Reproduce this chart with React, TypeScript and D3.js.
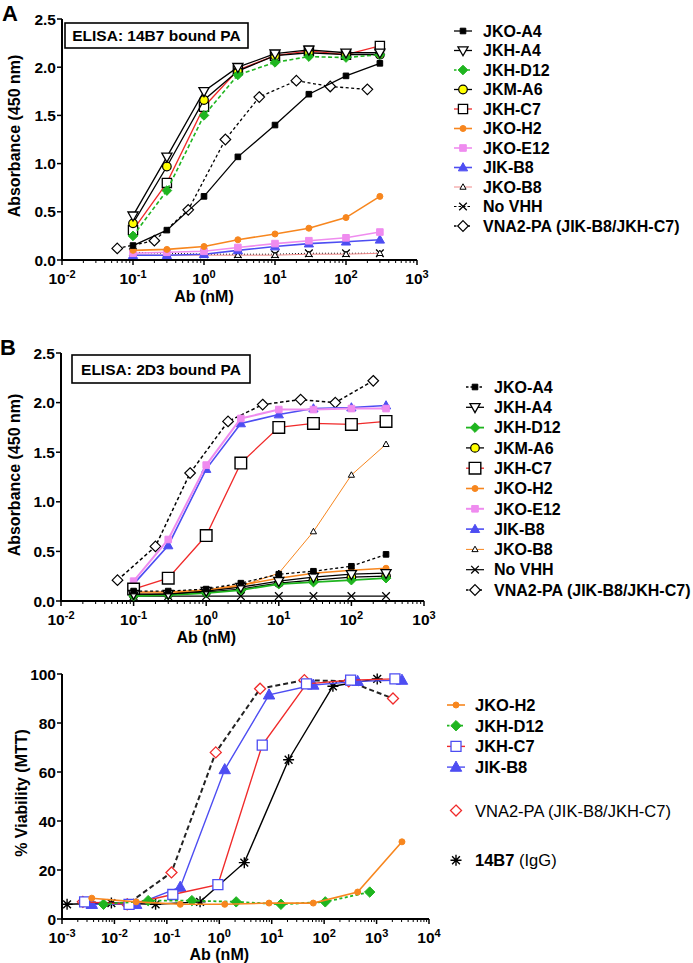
import React from 'react'
import * as d3 from 'd3'

// concentrations (nM)
const concAB = [0.1, 0.3, 1, 3, 10, 30, 100, 300]
const concVnaAB = [0.06, 0.2, 0.6, 2, 6, 20, 60, 200]

// panel A: ELISA 14B7 bound PA (absorbance 450 nm)
const aJKOA4 = [0.15, 0.31, 0.66, 1.07, 1.4, 1.72, 1.91, 2.04]
const aJKHA4 = [0.46, 1.07, 1.75, 2.0, 2.14, 2.18, 2.15, 2.15]
const aJKHD12 = [0.25, 0.72, 1.5, 1.92, 2.05, 2.11, 2.1, 2.13]
const aJKMA6 = [0.38, 0.97, 1.66, 1.96, 2.12, 2.15, 2.13, 2.13]
const aJKHC7 = [0.31, 0.8, 1.59, 1.97, 2.12, 2.17, 2.13, 2.22]
const aJKOH2 = [0.1, 0.11, 0.14, 0.21, 0.27, 0.33, 0.44, 0.66]
const aJKOE12 = [0.07, 0.08, 0.09, 0.13, 0.17, 0.2, 0.23, 0.29]
const aJIKB8 = [0.05, 0.05, 0.06, 0.1, 0.14, 0.17, 0.19, 0.21]
const aJKOB8 = [0.05, 0.05, 0.05, 0.05, 0.05, 0.06, 0.06, 0.07]
const aNoVHH = [0.08, 0.07, 0.06, 0.06, 0.06, 0.07, 0.07, 0.07]
const aVNA2 = [0.12, 0.2, 0.52, 1.25, 1.69, 1.86, 1.8, 1.77]

// panel B: ELISA 2D3 bound PA
const bJKOA4 = [0.1, 0.1, 0.12, 0.18, 0.27, 0.3, 0.35, 0.47]
const bJKHA4 = [0.07, 0.07, 0.1, 0.14, 0.2, 0.24, 0.27, 0.28]
const bJKHD12 = [0.05, 0.06, 0.08, 0.11, 0.17, 0.19, 0.21, 0.23]
const bJKMA6 = [0.06, 0.07, 0.09, 0.12, 0.18, 0.21, 0.24, 0.25]
const bJKHC7 = [0.12, 0.23, 0.66, 1.39, 1.75, 1.79, 1.78, 1.81]
const bJKOH2 = [0.09, 0.09, 0.11, 0.16, 0.23, 0.28, 0.31, 0.33]
const bJKOE12 = [0.2, 0.62, 1.37, 1.84, 1.93, 1.93, 1.94, 1.94]
const bJIKB8 = [0.17, 0.56, 1.33, 1.79, 1.88, 1.94, 1.95, 1.97]
const bJKOB8 = [0.08, 0.08, 0.1, 0.15, 0.28, 0.7, 1.27, 1.58]
const bNoVHH = [0.05, 0.05, 0.05, 0.05, 0.05, 0.05, 0.05, 0.05]
const bVNA2 = [0.21, 0.55, 1.29, 1.81, 1.98, 2.03, 2.0, 2.22]

// panel C: % viability (MTT)
const cConcH2 = [0.0037, 0.026, 0.18, 1.27, 8.9, 62, 436, 3050]
const cJKOH2 = [8.5, 7, 6, 6, 6.5, 6.5, 11, 31.5]
const cConcD12 = [0.0062, 0.044, 0.3, 2.1, 15, 105, 740]
const cJKHD12 = [6, 7.5, 7.5, 7, 6, 7, 11]
const cConcC7 = [0.0027, 0.019, 0.13, 0.94, 6.6, 46, 320, 2240]
const cJKHC7 = [7, 6, 10, 14, 71, 96, 97.5, 98]
const cConcB8 = [0.0037, 0.026, 0.18, 1.27, 8.9, 62, 436, 3050]
const cJIKB8 = [6, 6, 13, 61, 91.5, 95.5, 97, 97.5]
const cConcVNA2 = [0.0025, 0.0175, 0.1225, 0.857, 6.0, 42, 294, 2058]
const cVNA2 = [7, 6, 19, 68, 94, 97.5, 97, 90]
const cConc14B7 = [0.00125, 0.00875, 0.061, 0.43, 3.0, 21, 147, 1029]
const c14B7 = [6, 6.5, 6, 7, 23, 65, 95, 98]

const yTicksAB = [0, 0.5, 1, 1.5, 2, 2.5]
const yTicksC = [0, 20, 40, 60, 80, 100]

const FONT = '"Liberation Sans", Arial, sans-serif'
const ORANGE = '#f7861e'
const VIOLET = '#ef8cef'
const BLUE = '#4d4df2'
const GREEN = '#1fb51f'
const RED = '#f02a2a'
const PINK = '#f08a8a'

const TICK_FS = 15.5

function markerPath(shape, r) {
  switch (shape) {
    case 'square':
      return `M${-r},${-r}H${r}V${r}H${-r}Z`
    case 'triUp':
      return `M0,${-r * 1.15}L${r * 1.1},${r * 0.8}L${-r * 1.1},${r * 0.8}Z`
    case 'triDown':
      return `M0,${r * 1.15}L${r * 1.1},${-r * 0.8}L${-r * 1.1},${-r * 0.8}Z`
    case 'diamond':
      return `M0,${-r}L${r},0L0,${r}L${-r},0Z`
    case 'x':
      return `M${-r},${-r}L${r},${r}M${-r},${r}L${r},${-r}`
    case 'star': {
      let s = ''
      for (let i = 0; i < 4; i++) {
        const a = (i * Math.PI) / 4
        s += `M${-r * Math.cos(a)},${-r * Math.sin(a)}L${r * Math.cos(a)},${r * Math.sin(a)}`
      }
      return s
    }
    default:
      return `M${-r},0a${r},${r} 0 1,0 ${2 * r},0a${r},${r} 0 1,0 ${-2 * r},0`
  }
}

function Marker({ mk, cx, cy }) {
  return (
    <path
      d={markerPath(mk.shape, mk.r)}
      transform={`translate(${cx},${cy})`}
      fill={mk.fill}
      stroke={mk.stroke}
      strokeWidth={mk.sw ?? 1.3}
    />
  )
}

const mkFilledSq = { shape: 'square', r: 2.8, fill: '#000', stroke: '#000', sw: 1 }
const mkTriDown = { shape: 'triDown', r: 4.6, fill: '#fff', stroke: '#000', sw: 1.3 }
const mkDiaG = { shape: 'diamond', r: 4.8, fill: GREEN, stroke: GREEN, sw: 1 }
const mkCircY = { shape: 'circle', r: 4.3, fill: '#ffff00', stroke: '#000', sw: 1.2 }
const mkOpenSq = { shape: 'square', r: 4.6, fill: '#fff', stroke: '#000', sw: 1.3 }
const mkOpenSqB = { shape: 'square', r: 5.8, fill: '#fff', stroke: '#000', sw: 1.4 }
const mkDotO = { shape: 'circle', r: 3, fill: ORANGE, stroke: ORANGE, sw: 1 }
const mkSqV = { shape: 'square', r: 3.3, fill: VIOLET, stroke: VIOLET, sw: 1 }
const mkTriB = { shape: 'triUp', r: 4.2, fill: BLUE, stroke: BLUE, sw: 1 }
const mkTriSm = { shape: 'triUp', r: 2.8, fill: '#fff', stroke: '#000', sw: 1 }
const mkX = { shape: 'x', r: 3.8, fill: 'none', stroke: '#000', sw: 1.3 }
const mkOpenDia = { shape: 'diamond', r: 5.3, fill: '#fff', stroke: '#000', sw: 1.2 }

const seriesA = [
  { name: 'JKO-A4', x: concAB, y: aJKOA4, color: '#000', mk: mkFilledSq },
  { name: 'JKH-A4', x: concAB, y: aJKHA4, color: '#000', mk: mkTriDown },
  { name: 'JKH-D12', x: concAB, y: aJKHD12, color: GREEN, dash: '4,2.5', lw: 1.6, mk: mkDiaG },
  { name: 'JKM-A6', x: concAB, y: aJKMA6, color: '#000', mk: mkCircY },
  { name: 'JKH-C7', x: concAB, y: aJKHC7, color: RED, mk: mkOpenSq },
  { name: 'JKO-H2', x: concAB, y: aJKOH2, color: ORANGE, lw: 1.6, mk: mkDotO },
  { name: 'JKO-E12', x: concAB, y: aJKOE12, color: VIOLET, lw: 1.6, mk: mkSqV },
  { name: 'JIK-B8', x: concAB, y: aJIKB8, color: BLUE, lw: 1.6, mk: mkTriB },
  { name: 'JKO-B8', x: concAB, y: aJKOB8, color: PINK, lw: 1, mk: mkTriSm },
  { name: 'No VHH', x: concAB, y: aNoVHH, color: '#000', dash: '1,2', lw: 1, mk: mkX },
  { name: 'VNA2-PA (JIK-B8/JKH-C7)', x: concVnaAB, y: aVNA2, color: '#000', dash: '3,2.5', mk: mkOpenDia },
]

const seriesB = [
  { name: 'JKO-A4', x: concAB, y: bJKOA4, color: '#000', dash: '3,2.5', mk: mkFilledSq },
  { name: 'JKH-A4', x: concAB, y: bJKHA4, color: '#000', mk: mkTriDown },
  { name: 'JKH-D12', x: concAB, y: bJKHD12, color: GREEN, lw: 1.8, mk: mkDiaG },
  { name: 'JKM-A6', x: concAB, y: bJKMA6, color: '#000', mk: mkCircY },
  { name: 'JKH-C7', x: concAB, y: bJKHC7, color: RED, mk: mkOpenSqB },
  { name: 'JKO-H2', x: concAB, y: bJKOH2, color: ORANGE, lw: 1.6, mk: mkDotO },
  { name: 'JKO-E12', x: concAB, y: bJKOE12, color: VIOLET, lw: 2, mk: mkSqV },
  { name: 'JIK-B8', x: concAB, y: bJIKB8, color: BLUE, lw: 1.6, mk: mkTriB },
  { name: 'JKO-B8', x: concAB, y: bJKOB8, color: ORANGE, lw: 1, mk: mkTriSm },
  { name: 'No VHH', x: concAB, y: bNoVHH, color: '#000', lw: 1.2, mk: mkX },
  { name: 'VNA2-PA (JIK-B8/JKH-C7)', x: concVnaAB, y: bVNA2, color: '#000', dash: '3.5,2.5', lw: 1.5, mk: mkOpenDia },
]

const seriesC = [
  { name: 'JKO-H2', x: cConcH2, y: cJKOH2, color: ORANGE, lw: 1.6, mk: mkDotO },
  { name: 'JKH-D12', x: cConcD12, y: cJKHD12, color: GREEN, dash: '3,2.5', lw: 1.8, mk: { ...mkDiaG, r: 5.2 } },
  { name: 'JKH-C7', x: cConcC7, y: cJKHC7, color: RED, lw: 1.4, mk: { shape: 'square', r: 5, fill: '#fff', stroke: BLUE, sw: 1.3 } },
  { name: 'JIK-B8', x: cConcB8, y: cJIKB8, color: BLUE, lw: 1.4, mk: { ...mkTriB, r: 5.2 } },
  { name: 'VNA2-PA (JIK-B8/JKH-C7)', x: cConcVNA2, y: cVNA2, color: '#222', dash: '5,3', lw: 2, mk: { shape: 'diamond', r: 5.5, fill: '#fff', stroke: RED, sw: 1.3 }, noLegendLine: true, normal: true },
  { name: '14B7', sub: '  (IgG)', x: cConc14B7, y: c14B7, color: '#000', lw: 1.4, mk: { shape: 'star', r: 5.5, fill: 'none', stroke: '#000', sw: 1.4 }, noLegendLine: true },
]

function LogXAxis({ x, y0, labelY }) {
  const [d0, d1] = x.domain().map(v => Math.round(Math.log10(v)))
  const decades = d3.range(d0, d1 + 1)
  const minors = []
  decades.slice(0, -1).forEach(d => {
    for (let k = 2; k <= 9; k++) minors.push(k * Math.pow(10, d))
  })
  const [r0, r1] = x.range()
  return (
    <g>
      <line x1={r0} x2={r1} y1={y0} y2={y0} stroke="#000" strokeWidth={2} />
      {minors.map((v, i) => (
        <line key={'m' + i} x1={x(v)} x2={x(v)} y1={y0} y2={y0 + 3} stroke="#000" strokeWidth={1} />
      ))}
      {decades.map(d => (
        <g key={d}>
          <line x1={x(Math.pow(10, d))} x2={x(Math.pow(10, d))} y1={y0} y2={y0 + 5} stroke="#000" strokeWidth={1.5} />
          <text x={x(Math.pow(10, d))} y={labelY} textAnchor="middle" fontSize={TICK_FS} fontWeight="bold">
            10<tspan dy={-6.5} fontSize={11}>{String(d)}</tspan>
          </text>
        </g>
      ))}
    </g>
  )
}

function Panel({ p }) {
  const x = d3.scaleLog().domain(p.xDomain).range(p.xRange)
  const y = d3.scaleLinear().domain(p.yDomain).range(p.yRange)
  const line = d3.line().x(d => x(d[0])).y(d => y(d[1]))
  const x0 = p.xRange[0]
  const drawOrder = p.series.slice().reverse()
  return (
    <g>
      {p.letter && (
        <text x={p.letter.x} y={p.letter.y} fontSize={22} fontWeight="bold">{p.letter.t}</text>
      )}
      {p.box && (
        <g>
          <rect x={p.box.x} y={p.box.y} width={p.box.w} height={p.box.h} fill="#fff" stroke="#000" strokeWidth={1.6} />
          <text x={p.box.x + p.box.w / 2} y={p.box.y + p.box.h / 2} dy="0.36em" textAnchor="middle" fontSize={15.5} fontWeight="bold">{p.box.t}</text>
        </g>
      )}
      {/* y axis */}
      <line x1={x0} x2={x0} y1={y(p.yDomain[0]) + 1} y2={y(p.yDomain[1])} stroke="#000" strokeWidth={2} />
      {p.yTicks.map(t => (
        <g key={t}>
          <line x1={x0 - 5} x2={x0} y1={y(t)} y2={y(t)} stroke="#000" strokeWidth={1.5} />
          <text x={x0 - 6} y={y(t)} dy="0.36em" textAnchor="end" fontSize={TICK_FS} fontWeight="bold">{p.yFmt(t)}</text>
        </g>
      ))}
      <text transform={`translate(${p.yLabel.x},${p.yLabel.y}) rotate(-90)`} textAnchor="middle" fontSize={16} fontWeight="bold">{p.yLabel.t}</text>
      <LogXAxis x={x} y0={y(p.yDomain[0])} labelY={p.tickLabelY} />
      <text x={x(1)} y={p.xLabelY} textAnchor="middle" fontSize={16} fontWeight="bold">Ab (nM)</text>

      {/* series */}
      {drawOrder.map(s => (
        <g key={s.name}>
          <path
            d={line(s.x.map((v, i) => [v, s.y[i]]))}
            fill="none"
            stroke={s.color}
            strokeWidth={s.lw ?? 1.3}
            strokeDasharray={s.dash}
          />
          {s.x.map((v, i) => (
            <Marker key={i} mk={s.mk} cx={x(v)} cy={y(s.y[i])} />
          ))}
        </g>
      ))}

      {/* legend */}
      {p.series.map((s, i) => {
        const ly = p.legend.y0 + p.legend.slots[i] * p.legend.dy
        return (
          <g key={'lg' + s.name}>
            {!s.noLegendLine && (
              <line
                x1={p.legend.mx - 9}
                x2={p.legend.mx + 9}
                y1={ly}
                y2={ly}
                stroke={s.color}
                strokeWidth={s.lw ?? 1.3}
                strokeDasharray={s.dash ? '2.5,2' : undefined}
              />
            )}
            <Marker mk={s.mk} cx={p.legend.mx} cy={ly} />
            <text x={p.legend.tx} y={ly} dy="0.36em" fontSize={p.legend.fs} fontWeight={s.normal ? 'normal' : 'bold'}>
              {s.name}
              {s.sub && <tspan fontWeight="normal">{s.sub}</tspan>}
            </text>
          </g>
        )
      })}
    </g>
  )
}

const fmt1 = d3.format('.1f')
const fmt0 = d3.format('d')

const panelA = {
  letter: { t: 'A', x: 2, y: 21 },
  box: { x: 65, y: 23, w: 183, h: 25, t: 'ELISA: 14B7 bound PA' },
  xDomain: [0.01, 1000],
  xRange: [62, 417],
  yDomain: [0, 2.5],
  yRange: [260, 19],
  yTicks: yTicksAB,
  yFmt: fmt1,
  yLabel: { t: 'Absorbance (450 nm)', x: 20, y: 136 },
  tickLabelY: 284,
  xLabelY: 302,
  series: seriesA,
  legend: { mx: 463, tx: 483, y0: 31, dy: 19.5, fs: 16, slots: d3.range(11) },
}

const panelB = {
  letter: { t: 'B', x: 0, y: 355 },
  box: { x: 72, y: 355, w: 178, h: 28, t: 'ELISA: 2D3 bound PA' },
  xDomain: [0.01, 1000],
  xRange: [61, 424],
  yDomain: [0, 2.5],
  yRange: [601, 353],
  yTicks: yTicksAB,
  yFmt: fmt1,
  yLabel: { t: 'Absorbance (450 nm)', x: 20, y: 475 },
  tickLabelY: 625,
  xLabelY: 643,
  series: seriesB,
  legend: { mx: 475, tx: 494, y0: 387, dy: 20.3, fs: 16, slots: d3.range(11) },
}

const panelC = {
  xDomain: [0.001, 10000],
  xRange: [62, 429],
  yDomain: [0, 100],
  yRange: [919, 674],
  yTicks: yTicksC,
  yFmt: fmt0,
  yLabel: { t: '% Viability (MTT)', x: 27, y: 793 },
  tickLabelY: 943,
  xLabelY: 960,
  series: seriesC,
  legend: { mx: 456, tx: 475, y0: 705, dy: 20.7, fs: 16.5, slots: [0, 1, 2, 3, 5.1, 7.5] },
}

export default function App() {
  return (
    <svg
      width={693}
      height={963}
      style={{ position: 'absolute', left: 0, top: 0, background: '#fff' }}
      fontFamily={FONT}
    >
      <rect width={693} height={963} fill="#fff" />
      <Panel p={panelA} />
      <Panel p={panelB} />
      <Panel p={panelC} />
    </svg>
  )
}
